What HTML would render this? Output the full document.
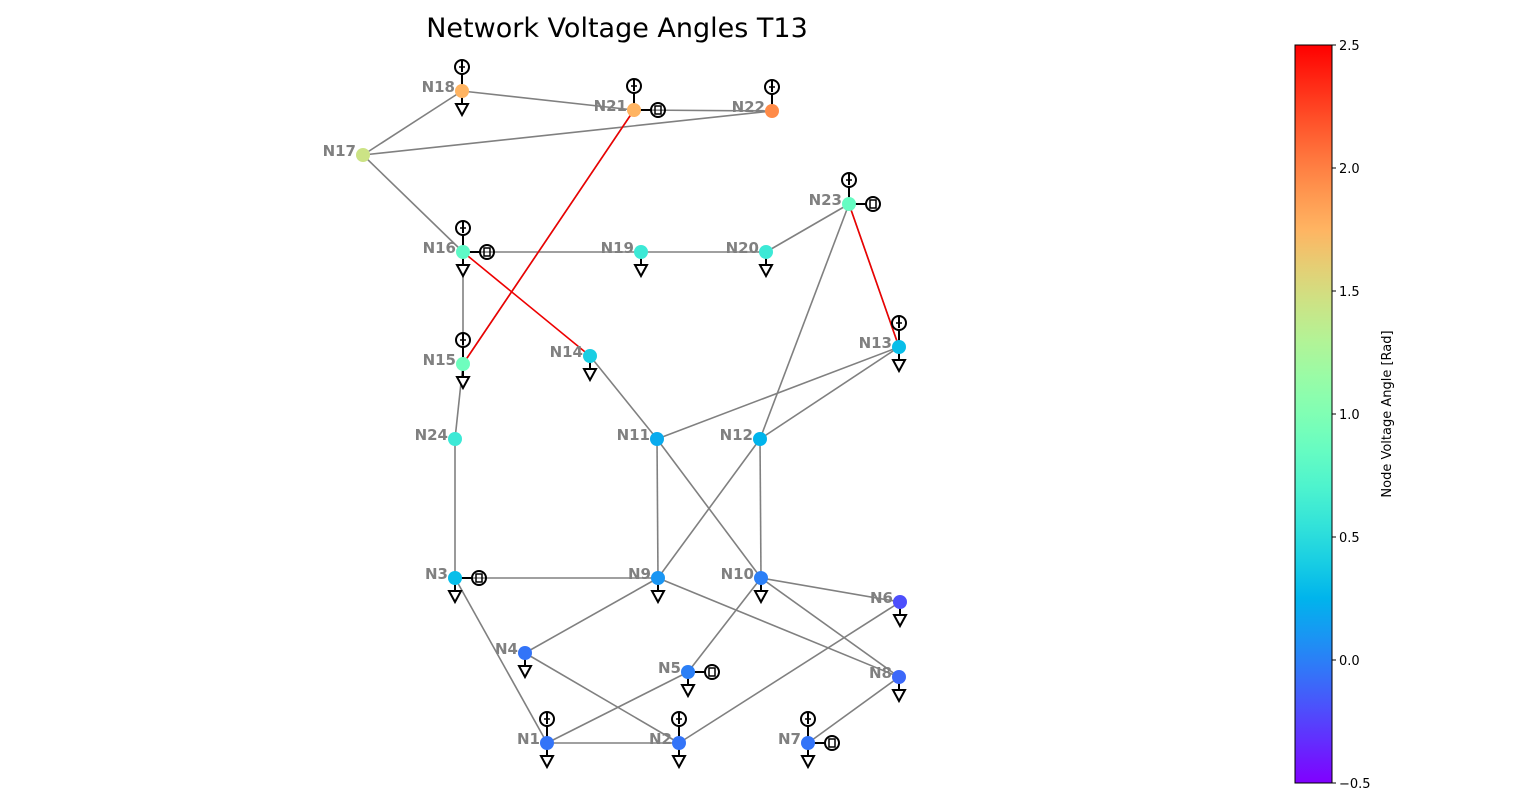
<!DOCTYPE html>
<html><head><meta charset="utf-8"><style>
html,body{margin:0;padding:0;background:#fff;}
svg{display:block;font-family:"DejaVu Sans","Liberation Sans",sans-serif;}
</style></head><body>
<svg id="chart" width="1536" height="807" viewBox="0 0 1536 807" xmlns="http://www.w3.org/2000/svg">
<defs>
<linearGradient id="cbgrad" x1="0" y1="1" x2="0" y2="0"></linearGradient>
</defs>
<text x="617" y="37" font-size="27" text-anchor="middle" fill="#000">Network Voltage Angles T13</text>
<g id="edges"></g>
<g id="symbols"></g>
<g id="nodes"></g>
<g id="colorbar"></g>
</svg>
<script>
const nodeNames = ["N1","N2","N3","N4","N5","N6","N7","N8","N9","N10","N11","N12","N13","N14","N15","N16","N17","N18","N19","N20","N21","N22","N23","N24"];
const nodeX = [547,679,455,525,688,900,808,899,658,761,657,760,899,590,463,463,363,462,641,766,634,772,849,455];
const nodeY = [743,743,578,653,672,602,743,677,578,578,439,439,347,356,364,252,155,91,252,252,110,111,204,439];
const nodeAngles = [-0.05,-0.05,0.3,-0.05,0.0,-0.2,-0.05,-0.1,0.1,0.0,0.2,0.25,0.3,0.4,0.9,0.8,1.45,1.75,0.6,0.6,1.75,1.95,0.85,0.6];
const edgeFrom = ["N17","N18","N21","N17","N17","N16","N19","N20","N23","N23","N21","N16","N15","N24","N3","N3","N14","N11","N12","N11","N11","N12","N12","N9","N9","N10","N10","N10","N4","N1","N1","N2","N7"];
const edgeTo   = ["N18","N21","N22","N22","N16","N19","N20","N23","N12","N13","N15","N15","N24","N3","N9","N1","N11","N13","N13","N9","N10","N10","N9","N4","N8","N5","N6","N8","N2","N2","N5","N6","N8"];
const overloadedEdges = ["N16-N14","N23-N13","N21-N15"];
const genNodes = ["N18","N21","N22","N23","N16","N15","N13","N1","N2","N7"];
const loadNodes = ["N18","N16","N15","N19","N20","N14","N13","N3","N9","N10","N6","N4","N5","N8","N1","N2","N7"];
const storageNodes = ["N21","N23","N16","N3","N5","N7"];
const cbTicks = [2.5,2.0,1.5,1.0,0.5,0.0,-0.5];
const cbTickLabels = ["2.5","2.0","1.5","1.0","0.5","0.0","\u22120.5"];
const vmin=-0.5, vmax=2.5;

const NS="http://www.w3.org/2000/svg";
function mk(tag,attrs,parent){const e=document.createElementNS(NS,tag);for(const k in attrs)e.setAttribute(k,attrs[k]);parent.appendChild(e);return e;}
function rainbow(t){t=Math.max(0,Math.min(1,t));const r=Math.min(1,Math.abs(2*t-0.5)),g=Math.sin(Math.PI*t),b=Math.cos(Math.PI*t/2);
 return `rgb(${Math.round(r*255)},${Math.round(g*255)},${Math.round(b*255)})`;}
function colorOf(v){return rainbow((v-vmin)/(vmax-vmin));}
const idx=n=>nodeNames.indexOf(n);
const gE=document.getElementById('edges'),gS=document.getElementById('symbols'),gN=document.getElementById('nodes'),gC=document.getElementById('colorbar');

function drawEdge(a,b,col){const i=idx(a),j=idx(b);
 const l=mk('line',{x1:nodeX[i],y1:nodeY[i],x2:nodeX[j],y2:nodeY[j],stroke:col,'stroke-width':1.6},gE);
 
 }
edgeFrom.forEach((a,k)=>drawEdge(a,edgeTo[k],'#808080'));
overloadedEdges.forEach(s=>{const p=s.split('-');drawEdge(p[0],p[1],'#ee0000');});

genNodes.forEach(n=>{const i=idx(n),x=nodeX[i],y=nodeY[i];
 const g=mk('g',{},gS);
 
 
 mk('line',{x1:x,y1:y,x2:x,y2:y-17,stroke:'#000','stroke-width':2},g);
 mk('circle',{cx:x,cy:y-24,r:7,fill:'none',stroke:'#000','stroke-width':2},g);
 mk('line',{x1:x,y1:y-30,x2:x,y2:y-19,stroke:'#000','stroke-width':2},g);
 mk('line',{x1:x-3,y1:y-24,x2:x+3,y2:y-24,stroke:'#000','stroke-width':1.5},g);});
loadNodes.forEach(n=>{const i=idx(n),x=nodeX[i],y=nodeY[i];
 const g=mk('g',{},gS);
 
 
 mk('line',{x1:x,y1:y,x2:x,y2:y+13,stroke:'#000','stroke-width':2},g);
 mk('polygon',{points:`${x-6},${y+13} ${x+6},${y+13} ${x},${y+24}`,fill:'#fff',stroke:'#000','stroke-width':2},g);});
storageNodes.forEach(n=>{const i=idx(n),x=nodeX[i],y=nodeY[i];
 const g=mk('g',{},gS);
 
 
 mk('line',{x1:x,y1:y,x2:x+17,y2:y,stroke:'#000','stroke-width':2},g);
 mk('circle',{cx:x+24,cy:y,r:7,fill:'none',stroke:'#000','stroke-width':2},g);
 mk('rect',{x:x+21,y:y-4,width:6,height:8,fill:'none',stroke:'#000','stroke-width':1.5},g);});

nodeNames.forEach((n,i)=>{
 const c=mk('circle',{cx:nodeX[i],cy:nodeY[i],r:7,fill:colorOf(nodeAngles[i])},gN);
 
 
 const t=mk('text',{x:nodeX[i]-7,y:nodeY[i]+1,'font-size':15,'font-weight':'bold','text-anchor':'end',fill:'#808080'},gN);
 t.textContent=n;
 
 });

const cbX=1295,cbW=37,cbTop=45,cbBot=783;
const cy=v=>cbBot-(v-vmin)/(vmax-vmin)*(cbBot-cbTop);
const grad=document.getElementById('cbgrad');
for(let k=0;k<=20;k++){mk('stop',{offset:(k/20),'stop-color':rainbow(k/20)},grad);}
const bar=mk('rect',{x:cbX,y:cbTop,width:cbW,height:cbBot-cbTop,fill:'url(#cbgrad)',stroke:'#000','stroke-width':1},gC);


cbTicks.forEach((v,k)=>{const y=cy(v);
 mk('line',{x1:cbX+cbW,y1:y,x2:cbX+cbW+4,y2:y,stroke:'#000','stroke-width':1},gC);
 const t=mk('text',{x:cbX+cbW+7,y:y+5,'font-size':13,fill:'#000'},gC);
 t.textContent=cbTickLabels[k];
 
 });
const lab=mk('text',{x:0,y:0,'font-size':13,'text-anchor':'middle',fill:'#000',transform:`translate(1391,414) rotate(-90)`},gC);
lab.textContent='Node Voltage Angle [Rad]';


</script>
</body></html>
